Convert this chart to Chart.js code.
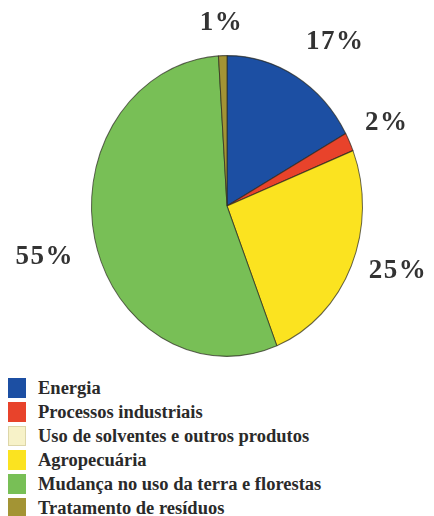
<!DOCTYPE html>
<html>
<head>
<meta charset="utf-8">
<script src="https://cdn.jsdelivr.net/npm/chart.js@4"></script>
<style>
  body { margin: 0; background: #fff; width: 434px; height: 516px; overflow: hidden; position: relative; }
  #chart { position: absolute; left: 0; top: 0; }
  #legend { position: absolute; left: 8px; top: 376px; font: bold 18.5px "Times New Roman", "Liberation Serif", "DejaVu Serif", serif; color: #2a2a2a; }
  #legend .row { display: flex; align-items: center; height: 24px; }
  #legend .box { width: 18px; height: 20px; margin-right: 12px; box-sizing: border-box; }
</style>
</head>
<body>
<canvas id="chart" width="434" height="372"></canvas>
<div id="legend"></div>
<script>
const sectors = [
  "Energia",
  "Processos industriais",
  "Uso de solventes e outros produtos",
  "Agropecuária",
  "Mudança no uso da terra e florestas",
  "Tratamento de resíduos",
];
const shares = [17, 2, 0, 25, 55, 1];
const colors = ["#1c4fa3", "#e8432b", "#f7f2c8", "#fbe320", "#78bf56", "#a39434"];

// pie is drawn a bit taller than wide
const stretchY = 1.11;
// small shifts for the percent labels
const nudge = [[19, 0], [1, -2], [0, 0], [10, -11], [-11, 9], [0, 7]];

const ellipse = {
  id: "ellipse",
  beforeDatasetsDraw(chart) {
    const arc = chart.getDatasetMeta(0).data[0];
    const ctx = chart.ctx;
    ctx.save();
    ctx.translate(arc.x, arc.y);
    ctx.scale(1, stretchY);
    ctx.translate(-arc.x, -arc.y);
  },
  afterDatasetsDraw(chart) {
    chart.ctx.restore();
  },
};

const pctLabels = {
  id: "pctLabels",
  afterDraw(chart) {
    const ctx = chart.ctx;
    const meta = chart.getDatasetMeta(0);
    ctx.save();
    ctx.font = 'bold 27px "Times New Roman", "Liberation Serif", "DejaVu Serif", serif';
    ctx.fillStyle = "#333";
    ctx.textAlign = "center";
    ctx.textBaseline = "middle";
    ctx.letterSpacing = "1.5px";
    meta.data.forEach((arc, i) => {
      const v = shares[i];
      if (!v) return;
      const mid = (arc.startAngle + arc.endAngle) / 2;
      const r = arc.outerRadius;
      const x = arc.x + (r + 40) * Math.cos(mid) + nudge[i][0];
      const y = arc.y + (r * stretchY + 40) * Math.sin(mid) + nudge[i][1];
      ctx.fillText(v + "%", x, y);
    });
    ctx.restore();
  },
};

new Chart(document.querySelector("#chart"), {
  type: "pie",
  data: {
    labels: sectors,
    datasets: [
      {
        data: shares,
        backgroundColor: colors,
        borderColor: "rgba(40,40,30,0.7)",
        borderWidth: 1,
        hoverBorderWidth: 1,
      },
    ],
  },
  options: {
    responsive: false,
    animation: false,
    layout: { padding: { left: 91, right: 71, top: 70, bottom: 30 } },
    plugins: {
      legend: { display: false },
      tooltip: { enabled: false },
    },
  },
  plugins: [ellipse, pctLabels],
});

// legend list under the pie
const legend = document.querySelector("#legend");
sectors.forEach((name, i) => {
  const row = document.createElement("div");
  row.className = "row";
  const box = document.createElement("span");
  box.className = "box";
  box.style.background = colors[i];
  if (i === 2) box.style.border = "1px solid #ddd6a8";
  const txt = document.createElement("span");
  txt.textContent = name;
  row.appendChild(box);
  row.appendChild(txt);
  legend.appendChild(row);
});
</script>
</body>
</html>
